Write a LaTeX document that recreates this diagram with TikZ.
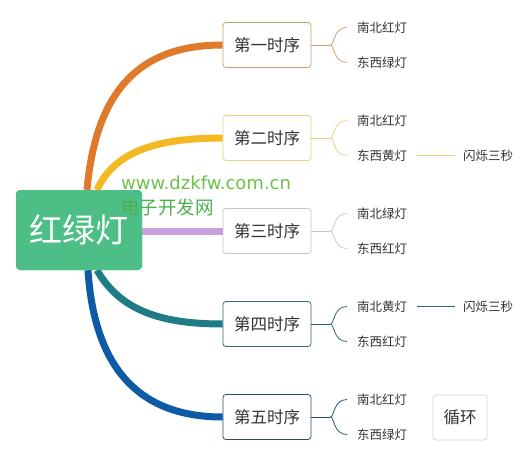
\documentclass[tikz,border=0pt]{standalone}
\usepackage{fontspec}
\setmainfont{Noto Sans CJK SC}
\newfontfamily\wmfont{DejaVu Sans}
\definecolor{rootg}{HTML}{4DBF86}
\definecolor{bor}{HTML}{E07A2B}
\definecolor{byl}{HTML}{F3B824}
\definecolor{bpu}{HTML}{C9A0DC}
\definecolor{bte}{HTML}{1E7C84}
\definecolor{bbl}{HTML}{0D5AA7}
\definecolor{c1}{HTML}{C8A06A}
\definecolor{c2}{HTML}{E6D37C}
\definecolor{c3}{HTML}{C8C8C8}
\definecolor{c4}{HTML}{2F6B6B}
\definecolor{c5}{HTML}{24506A}
\definecolor{txt}{HTML}{333333}
\definecolor{wm}{HTML}{6CC04A}
\definecolor{wm2}{HTML}{4CB04C}
\begin{document}
\begin{tikzpicture}[x=1pt,y=-1pt,
  branch/.style={line width=7pt},
  rootbox/.style={fill=rootg, rounded corners=4pt, minimum width=126pt, minimum height=80pt, inner sep=0pt,
    text=white, font=\fontsize{33}{36}\selectfont},
  child/.style={draw, rounded corners=3pt, line width=0.8pt, fill=white,
    minimum width=88pt, minimum height=45pt, inner sep=0pt,
    font=\fontsize{16.5}{18}\selectfont, text=txt},
  leaf/.style={inner xsep=10pt, inner ysep=0pt, anchor=west,
    font=\fontsize{12.5}{14}\selectfont, text=txt},
  flash/.style={inner xsep=8pt, inner ysep=0pt, anchor=west,
    font=\fontsize{12.5}{14}\selectfont, text=txt},
  brk/.style={line width=0.8pt}]
\useasboundingbox (0,0) rectangle (525,455);
% root
\node[rootbox] (root) at (79,230) {红绿灯};
% children
\node[child, draw=c1] (s1) at (267,45) {第一时序};
\node[child, draw=c2] (s2) at (267,138) {第二时序};
\node[child, draw=c3] (s3) at (267,231) {第三时序};
\node[child, draw=c4] (s4) at (267,324) {第四时序};
\node[child, draw=c5] (s5) at (267,417) {第五时序};
% branches
\draw[branch, bor] ([xshift=8pt]root.north) .. controls (96,90) and (140,45) .. (s1.west);
\draw[branch, byl] ([xshift=18pt]root.north) .. controls (115,150) and (160,138) .. (s2.west);
\draw[branch, bpu] (root.east |- s3.west) -- (s3.west);
\draw[branch, bte] ([xshift=18pt]root.south) .. controls (120,310) and (160,324) .. (s4.west);
\draw[branch, bbl] ([xshift=9pt]root.south) .. controls (95,380) and (150,417) .. (s5.west);
% redraw root over branch ends
\node[rootbox] at (root.center) {红绿灯};
% leaves
\node[leaf] (l1a) at (347,27.5) {南北红灯};
\node[leaf] (l1b) at (347,62.5) {东西绿灯};
\node[leaf] (l2a) at (347,120.5) {南北红灯};
\node[leaf] (l2b) at (347,155.5) {东西黄灯};
\node[leaf] (l3a) at (347,213.5) {南北绿灯};
\node[leaf] (l3b) at (347,248.5) {东西红灯};
\node[leaf] (l4a) at (347,306.5) {南北黄灯};
\node[leaf] (l4b) at (347,341.5) {东西红灯};
\node[leaf] (l5a) at (347,399.5) {南北红灯};
\node[leaf] (l5b) at (347,434.5) {东西绿灯};
\node[flash] (f2) at (455,155.5) {闪烁三秒};
\node[flash] (f4) at (455,306.5) {闪烁三秒};
\node[draw=c3!80, rounded corners=3pt, line width=0.8pt, minimum width=54pt, minimum height=45pt,
  inner sep=0pt, font=\fontsize{16.5}{18}\selectfont, text=txt] (loop) at (460,417.5) {循环};
% brackets
\foreach \s/\a/\b/\c in {s1/l1a/l1b/c1, s2/l2a/l2b/c2, s3/l3a/l3b/c3, s4/l4a/l4b/c4, s5/l5a/l5b/c5}{
  \coordinate (j) at ([xshift=19pt]\s.east);
  \draw[brk, \c] (\s.east) -- (j);
  \draw[brk, \c] (j) .. controls ([xshift=4pt]j) and ([xshift=3pt]j |- \a.west) .. (\a.west);
  \draw[brk, \c] (j) .. controls ([xshift=4pt]j) and ([xshift=3pt]j |- \b.west) .. (\b.west);
}
\draw[brk, c2] (l2b.east) -- (f2.west);
\draw[brk, c4] (l4a.east) -- (f4.west);
% watermark
\node[anchor=west, inner sep=0pt, text=wm, font=\wmfont\fontsize{18}{20}\selectfont] (wm1) at (121,183) {www.dzkfw.com.cn};
\node[anchor=west, inner sep=0pt, text=wm2, font=\fontsize{18.5}{20}\selectfont] (wm2) at (121,207) {电子开发网};
\end{tikzpicture}
\end{document}
